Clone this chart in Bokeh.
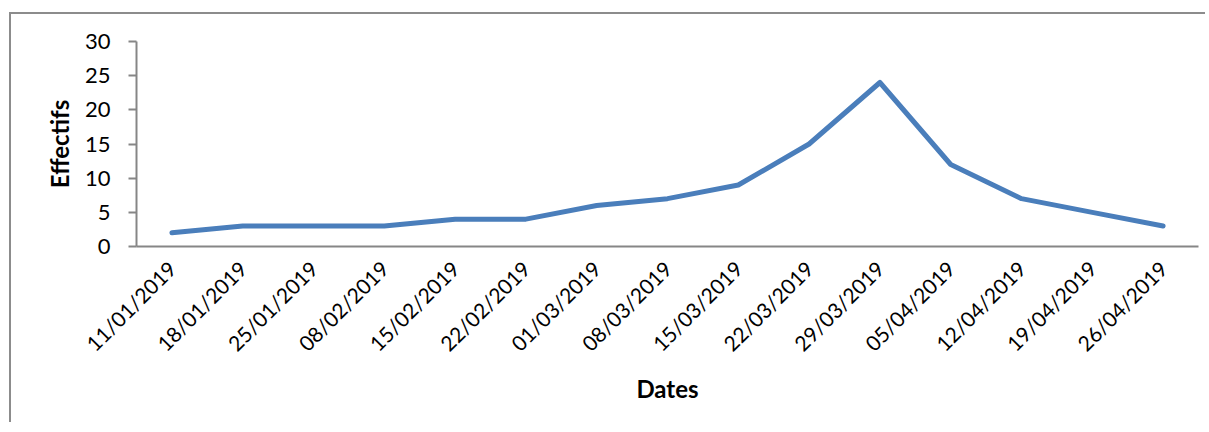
from bokeh.plotting import figure
from bokeh.embed import file_html
from bokeh.resources import INLINE
from bokeh.models import ColumnDataSource, FixedTicker
import math

dates = ["11/01/2019", "18/01/2019", "25/01/2019", "08/02/2019", "15/02/2019",
         "22/02/2019", "01/03/2019", "08/03/2019", "15/03/2019", "22/03/2019",
         "29/03/2019", "05/04/2019", "12/04/2019", "19/04/2019", "26/04/2019"]
effectifs = [2, 3, 3, 3, 4, 4, 6, 7, 9, 15, 24, 12, 7, 5, 3]
y_ticks = [0, 5, 10, 15, 20, 25, 30]

src = ColumnDataSource(dict(x=dates, y=effectifs))

p = figure(x_range=dates, y_range=(0, 30), width=1196, height=410,
           output_backend="svg", toolbar_location=None,
           min_border_left=125, min_border_right=9, min_border_top=27,
           min_border_bottom=178)
p.styles = {"border-left": "2px solid #8c8c8c", "border-top": "2px solid #8c8c8c",
            "margin-left": "9px", "margin-top": "12px"}
p.outline_line_color = None
p.grid.grid_line_color = None
p.x_range.range_padding = 0

p.line("x", "y", source=src, line_color="#4A7EBB", line_width=5, line_join="round",
       line_cap="round")

font = "Lato"
axis_color = "#868686"
for ax in (p.xaxis[0], p.yaxis[0]):
    ax.axis_line_color = axis_color
    ax.axis_line_width = 2
    ax.major_tick_line_color = axis_color
    ax.major_tick_line_width = 2
    ax.minor_tick_line_color = None
    ax.major_label_text_font = font
    ax.major_label_text_color = "#000000"
    ax.axis_label_text_font = font
    ax.axis_label_text_font_style = "bold"
    ax.axis_label_text_font_size = "24px"
    ax.axis_label_text_color = "#000000"

p.yaxis.major_label_text_font_size = "22px"
p.xaxis.major_label_text_font_size = "21px"

p.yaxis.ticker = FixedTicker(ticks=y_ticks)
p.yaxis.major_tick_out = 8
p.yaxis.major_tick_in = 0
p.yaxis.major_label_standoff = 18
p.yaxis.axis_label = "Effectifs"
p.yaxis.axis_label_standoff = 8

p.xaxis.major_tick_out = 0
p.xaxis.major_tick_in = 0
p.xaxis.major_label_orientation = math.pi / 4
p.xaxis.major_label_standoff = 18
p.xaxis.axis_label = "Dates"
p.xaxis.axis_label_standoff = 6

open("out.html", "w").write(file_html(p, INLINE))
